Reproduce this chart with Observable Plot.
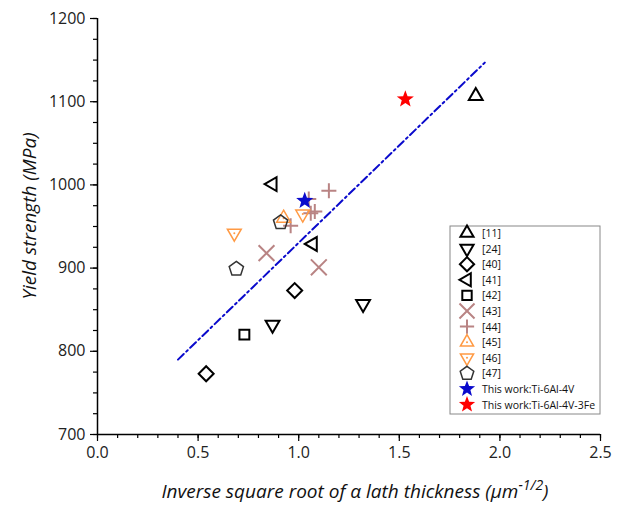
<!DOCTYPE html>
<html><head><meta charset="utf-8">
<script src="https://cdn.jsdelivr.net/npm/d3@7"></script>
<script src="https://cdn.jsdelivr.net/npm/@observablehq/plot@0.6"></script>
<style>body{margin:0;background:#fff}</style>
</head><body><div id="chart"></div>
<script>
// ---- data ----
const seriesNames = ["[11]","[24]","[40]","[41]","[42]","[43]","[44]","[45]","[46]","[47]","This work:Ti-6Al-4V","This work:Ti-6Al-4V-3Fe"];
const s11X = [1.88],            s11Y = [1107];
const s24X = [0.87, 1.32],      s24Y = [832, 857];
const s40X = [0.54, 0.98],      s40Y = [773, 873];
const s41X = [0.87, 1.07],      s41Y = [1001, 929];
const s42X = [0.73],            s42Y = [820];
const s43X = [0.84, 1.10],      s43Y = [918, 901];
const s44X = [0.96, 1.05, 1.06, 1.08, 1.15], s44Y = [951, 983, 966, 968, 993];
const s45X = [0.925],           s45Y = [960];
const s46X = [0.68, 1.02],      s46Y = [942, 965];
const s47X = [0.69, 0.91],      s47Y = [899, 955];
const blueX = [1.03],           blueY = [981];
const redX = [1.53],            redY = [1103];
const fitX = [0.40, 1.925],     fitY = [790, 1147];
const xTicks = [0, 0.5, 1.0, 1.5, 2.0, 2.5];
const yTicks = [700, 800, 900, 1000, 1100, 1200];

// ---- symbols ----
const deg = Math.PI / 180;
function poly(angles) {
  return {draw(ctx, size) {
    const r = Math.sqrt(size / Math.PI);
    angles.forEach((a, i) => {
      const x = r * Math.cos(a * deg), y = r * Math.sin(a * deg);
      i ? ctx.lineTo(x, y) : ctx.moveTo(x, y);
    });
    ctx.closePath();
  }};
}
const triUp = poly([-90, 30, 150]);
const triDown = poly([90, -30, 210]);
const triLeft = poly([180, -60, 60]);
const diamond = poly([0, 90, 180, 270]);
const square = poly([45, 135, 225, 315]);
const pentagon = poly([-90, -18, 54, 126, 198]);
const times = {draw(ctx, size) {
  const r = Math.sqrt(size / Math.PI) * 0.72;
  ctx.moveTo(-r, -r); ctx.lineTo(r, r); ctx.moveTo(-r, r); ctx.lineTo(r, -r);
}};
const plus = {draw(ctx, size) {
  const r = Math.sqrt(size / Math.PI);
  ctx.moveTo(-r, 0); ctx.lineTo(r, 0); ctx.moveTo(0, -r); ctx.lineTo(0, r);
}};
const star = {draw(ctx, size) {
  const R = Math.sqrt(size / Math.PI), ri = R * 0.42;
  for (let k = 0; k < 10; k++) {
    const a = (-90 + k * 36) * deg, rr = k % 2 ? ri : R;
    const x = rr * Math.cos(a), y = rr * Math.sin(a);
    k ? ctx.lineTo(x, y) : ctx.moveTo(x, y);
  }
  ctx.closePath();
}};

const brown = "#b98484", orange = "#ff9a44", blue = "#0a0acc";
const styles = [
  {sym: triUp, r: 8, stroke: "#000", sw: 2},
  {sym: triDown, r: 8, stroke: "#000", sw: 2},
  {sym: diamond, r: 7.5, stroke: "#000", sw: 2},
  {sym: triLeft, r: 8, stroke: "#000", sw: 2},
  {sym: square, r: 7, stroke: "#000", sw: 2},
  {sym: times, r: 11, stroke: brown, sw: 2},
  {sym: plus, r: 7.5, stroke: brown, sw: 2},
  {sym: triUp, r: 8, stroke: orange, sw: 1.5, dot: true},
  {sym: triDown, r: 8, stroke: orange, sw: 1.5, dot: true},
  {sym: pentagon, r: 7.5, stroke: "#333", sw: 1.5},
  {sym: star, r: 9, fill: blue},
  {sym: star, r: 9, fill: "#ff0000"}
];
const xs = [s11X, s24X, s40X, s41X, s42X, s43X, s44X, s45X, s46X, s47X, blueX, redX];
const ys = [s11Y, s24Y, s40Y, s41Y, s42Y, s43Y, s44Y, s45Y, s46Y, s47Y, blueY, redY];

const marks = [];
marks.push(Plot.line(fitX.map((x, i) => ({x, y: fitY[i]})), {x: "x", y: "y", stroke: blue, strokeWidth: 2, strokeDasharray: "8,3.5,2,3.5"}));
seriesNames.forEach((name, k) => {
  const st = styles[k];
  const data = xs[k].map((x, i) => ({x, y: ys[k][i]}));
  marks.push(Plot.dot(data, {x: "x", y: "y", symbol: st.sym, r: st.r,
    fill: st.fill || "none", stroke: st.fill ? "none" : st.stroke, strokeWidth: st.sw || 1}));
  if (st.dot) marks.push(Plot.dot(data, {x: "x", y: "y", r: 1, fill: st.stroke, stroke: "none"}));
});

const font = "'Open Sans', sans-serif";
const plot = Plot.plot({
  width: 638, height: 509,
  marginLeft: 97, marginRight: 38, marginTop: 18, marginBottom: 75,
  style: {fontFamily: font, background: "#fff", color: "#222"},
  x: {domain: [0, 2.5], label: null},
  y: {domain: [700, 1200], label: null},
  marks: [
    Plot.axisX({ticks: d3.range(0, 2.501, 0.1), tickSize: 4, tickFormat: () => "", stroke: "#000", strokeWidth: 1.2, label: null}),
    Plot.axisX({ticks: xTicks, tickSize: 7, tickPadding: 5, tickFormat: d3.format(".1f"), fontSize: 16, stroke: "#000", strokeWidth: 1.2, label: null}),
    Plot.axisY({ticks: d3.range(700, 1200.1, 25), tickSize: 4, tickFormat: () => "", stroke: "#000", strokeWidth: 1.2, label: null}),
    Plot.axisY({ticks: yTicks, tickSize: 7, tickPadding: 5, tickFormat: d3.format("d"), fontSize: 16, stroke: "#000", strokeWidth: 1.2, label: null}),
    Plot.ruleX([0], {stroke: "#000", strokeWidth: 1.5}),
    Plot.ruleY([700], {stroke: "#000", strokeWidth: 1.5}),
    ...marks
  ]
});
document.getElementById("chart").appendChild(plot);

const svg = d3.select(plot);
// axis titles
svg.append("text")
  .attr("transform", "translate(36,216) rotate(-90)")
  .attr("text-anchor", "middle")
  .attr("font-family", font).attr("font-style", "italic").attr("font-size", 19).attr("fill", "#111")
  .text("Yield strength (MPa)");
const xl = svg.append("text")
  .attr("x", 355).attr("y", 498)
  .attr("text-anchor", "middle")
  .attr("font-family", font).attr("font-style", "italic").attr("font-size", 19).attr("fill", "#111");
xl.append("tspan").text("Inverse square root of α lath thickness (μm");
xl.append("tspan").attr("dy", -8).attr("font-size", 14).text("-1/2");
xl.append("tspan").attr("dy", 8).text(")");

// legend
const lg = svg.append("g").attr("text-anchor", "start");
const lx = 450, ly = 226, lw = 150, step = 15.6;
lg.append("rect").attr("x", lx).attr("y", ly).attr("width", lw).attr("height", 188)
  .attr("fill", "#fff").attr("stroke", "#888").attr("stroke-width", 1);
seriesNames.forEach((name, k) => {
  const st = styles[k];
  const cy = ly + 7 + k * step, cx = lx + 17;
  const p = d3.path();
  const rr = st.r * 0.95;
  st.sym.draw(p, rr * rr * Math.PI);
  lg.append("path").attr("transform", `translate(${cx},${cy})`).attr("d", p.toString())
    .attr("fill", st.fill || "none").attr("stroke", st.fill ? "none" : st.stroke).attr("stroke-width", st.sw || 1);
  if (st.dot) lg.append("circle").attr("cx", cx).attr("cy", cy).attr("r", 1).attr("fill", st.stroke);
  lg.append("text").attr("x", lx + 32).attr("y", cy + 4).attr("text-anchor", "start")
    .attr("font-family", font).attr("font-size", 10.5).attr("fill", "#111").text(name);
});
</script>
</body></html>
